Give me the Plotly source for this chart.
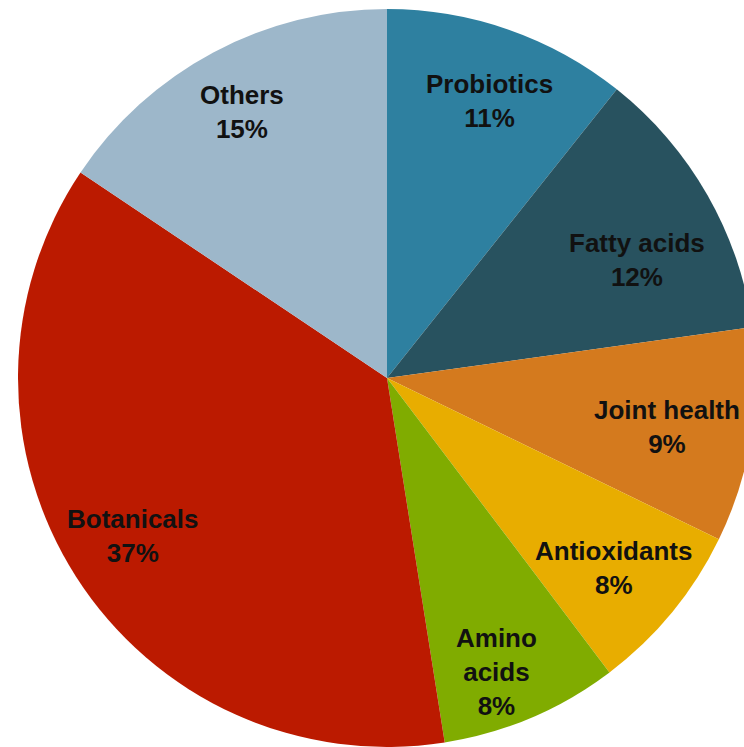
import math
import plotly.graph_objects as go

categories = ["Probiotics", "Fatty acids", "Joint health", "Antioxidants", "Amino acids", "Botanicals", "Others"]
values = [10.7, 12.1, 9.4, 7.5, 7.8, 36.9, 15.6]
pct_labels = ["11%", "12%", "9%", "8%", "8%", "37%", "15%"]
label_texts = ["Probiotics", "Fatty acids", "Joint health", "Antioxidants", "Amino<br>acids", "Botanicals", "Others"]
colors = ["#2e80a0", "#28525f", "#d47a1e", "#e8ad00", "#80ac00", "#bb1a00", "#9db7ca"]

# layout constants
W, H = 774, 747
CX, CY, R = 387, 378, 369
label_r = [0.80, 0.75, 0.77, 0.80, 0.85, 0.81, 0.82]      # radial position of label (fraction of radius)
label_f = [0.53, 0.60, 0.525, 0.52, 0.59, 0.505, 0.49]   # angular position within slice

fig = go.Figure(go.Pie(
    labels=categories, values=values, sort=False, direction="clockwise", rotation=0,
    marker=dict(colors=colors, line=dict(width=0)),
    textinfo="none", hoverinfo="label",
    domain=dict(x=[0, 1], y=[0, 2 * R / H]),
    showlegend=False,
))

total = sum(values)
cum = 0
annotations = []
for txt, pct, v, rf, ff in zip(label_texts, pct_labels, values, label_r, label_f):
    ang = (cum + v * ff) / total * 2 * math.pi
    cum += v
    px = CX + rf * R * math.sin(ang)
    py = CY - rf * R * math.cos(ang)
    annotations.append(dict(
        x=px / W, y=1 - py / H, xref="paper", yref="paper",
        text=f"<b>{txt}<br>{pct}</b>", showarrow=False,
        font=dict(family="Liberation Sans", size=26, color="#111111"),
        xanchor="center", yanchor="middle", align="center",
    ))

fig.update_layout(
    width=W, height=H, autosize=False,
    margin=dict(l=0, r=0, t=0, b=0),
    paper_bgcolor="white", plot_bgcolor="white",
    annotations=annotations,
)

fig.write_html(
    "out.html",
    config={"displayModeBar": False},
    post_script="document.body.style.margin='0';document.body.style.overflow='hidden';document.documentElement.style.overflow='hidden';",
)
